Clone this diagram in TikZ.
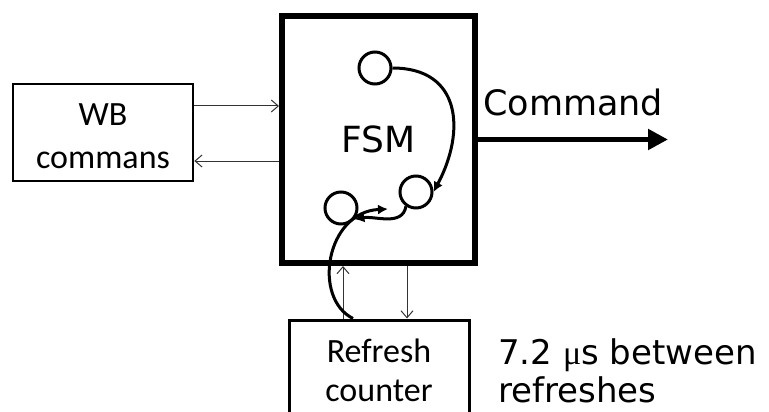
\documentclass[tikz,border=0pt]{standalone}
\usepackage{fontspec}
\setmainfont{DejaVu Sans}
\newfontfamily\calibri{Carlito}
\newfontfamily\muserif{Liberation Serif}
\usepackage{tikz}
\usetikzlibrary{arrows.meta,positioning}

\begin{document}
\begin{tikzpicture}[
    x=1pt, y=-1pt,
    bloco/.style={rectangle, draw=black, line width=2.6pt, inner sep=0pt, align=center, font=\calibri\fontsize{34}{43}\selectfont},
    estado/.style={circle, draw=black, line width=3pt, minimum size=32pt, inner sep=0pt},
    fio/.style={black!80, line width=1pt, -{Straight Barb[length=7pt,width=12pt]}},
    trans/.style={line width=3pt, -{Latex[length=10pt,width=10pt]}},
]
\useasboundingbox (0,0) rectangle (769,412);
% ---------- blocks ----------
\node[draw=black, line width=6pt, minimum width=193pt, minimum height=247pt, font=\fontsize{36}{40}\selectfont] (fsm) at (378.5,139.5) {FSM};
\node[bloco, minimum width=180pt, minimum height=97pt] (wb) at (103,132.5) {};
\node[bloco, line width=3pt, minimum width=180pt, minimum height=100pt] (refresh) at (379,370) {};
\node[align=center, font=\calibri\fontsize{34}{43}\selectfont] (wbtxt) at ([yshift=-4pt]wb.center) {WB\\commans};
\node[align=center, font=\calibri\fontsize{34}{39}\selectfont] (reftxt) at (refresh.center) {Refresh\\counter};
% ---------- states ----------
\node[estado] (s1) at (375,68) {};
\node[estado] (s2) at (416,192) {};
\node[estado] (s3) at (341,208) {};
% ---------- labels ----------
\node[anchor=base west, inner sep=0pt, font=\fontsize{35}{40}\selectfont] (cmd) at (483,115) {Command};
\node[anchor=base west, inner sep=0pt, align=left, font=\fontsize{34}{33}\selectfont] (nota) at (498,402) {7.2 {\muserif μ}s between\\[3pt]refreshes};
% ---------- wires ----------
\draw[fio] ([yshift=26.5pt]wb.east) -- ([yshift=26.5pt]wb.east -| fsm.west);
\draw[fio] ([yshift=-28.5pt]wb.east -| fsm.west) -- ([yshift=-28.5pt]wb.east);
\draw[fio] ([xshift=-36pt]refresh.north) -- ([xshift=-36pt]refresh.north |- fsm.south);
\draw[fio] ([xshift=28pt]refresh.north |- fsm.south) -- ([xshift=28pt]refresh.north);
\coordinate (saida) at (668,139.5);
\draw[line width=5pt, -{Triangle[length=20pt,width=20pt]}] (fsm.east) -- (saida);
% ---------- transitions ----------
\coordinate (chegada) at (388,209);
\draw[trans] (s1.east) to[out=0,in=62,looseness=1.35] (s2.east);
\draw[trans] (s2.235) to[out=260,in=10] (s3.-40);
\draw[trans] ([xshift=-26pt]refresh.north) .. controls (312,298) and (326,212) .. (chegada);
\end{tikzpicture}
\end{document}
